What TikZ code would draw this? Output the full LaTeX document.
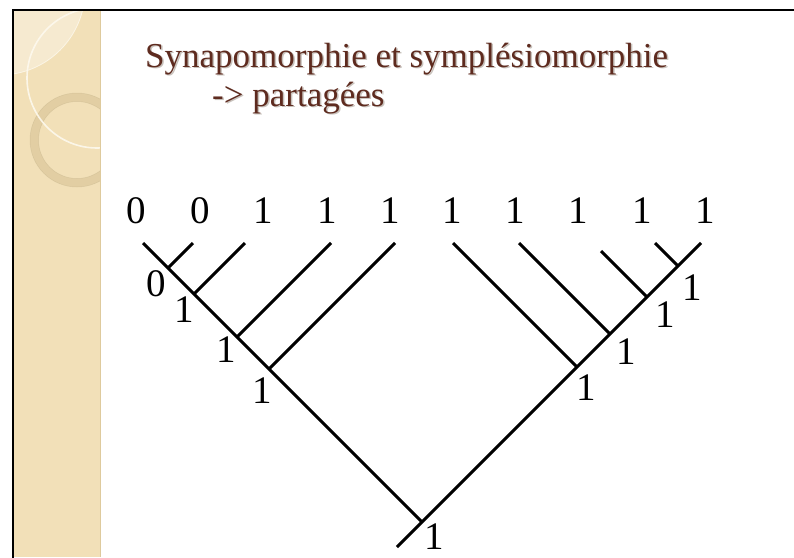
\documentclass[tikz,border=0pt]{standalone}
\usepackage{fontspec}
\setmainfont{Liberation Serif}
\definecolor{bandcol}{HTML}{F2E0B8}
\definecolor{bandlight}{HTML}{F6EAD0}
\definecolor{ringcol}{HTML}{D6C192}
\definecolor{arcwhite}{HTML}{FDF9EE}
\definecolor{titlecol}{HTML}{5E2B1F}
\definecolor{shadowcol}{HTML}{C8C2BC}
\begin{document}
\begin{tikzpicture}[x=1pt,y=-1pt,
  branch/.style={line width=3pt, line cap=butt},
  digit/.style={inner sep=0pt, font=\fontsize{39}{42}\selectfont},
  titletext/.style={inner sep=0pt, anchor=base west, font=\fontsize{35}{40}\selectfont}]
\useasboundingbox (0,0) rectangle (794,557);
\fill[white] (0,0) rectangle (794,557);
% decorative band
\fill[bandcol] (13,10) rectangle (100,557);
\begin{scope}
  \clip (13,10) rectangle (100,557);
  \fill[bandlight] (0,-10) circle (85);
  \draw[arcwhite, line width=0.8pt, opacity=0.8] (0,-10) circle (85);
  \fill[ringcol, even odd rule, opacity=0.55] (77,140) circle (47) (77,140) circle (38.5);
  \draw[ringcol!80!black, line width=0.5pt, opacity=0.25] (77,140) circle (47) (77,140) circle (38.5);
  \draw[arcwhite, line width=1.6pt, opacity=0.9] (97,78) circle (70);
\end{scope}
\draw[ringcol!70!bandcol, line width=1pt] (100,10) -- (100,557);
% frame
\draw[line width=2.8pt, line cap=rect] (13,557) -- (13,10) -- (794,10);
% title
\node[titletext, text=shadowcol] at (146.5,68.5) {Synapomorphie et symplésiomorphie};
\node[titletext, text=titlecol] (t1) at (145,67) {Synapomorphie et symplésiomorphie};
\node[titletext, text=shadowcol] at (213.5,107.5) {-> partagées};
\node[titletext, text=titlecol] (t2) at (212,106) {-> partagées};
% tree coordinates
\coordinate (root) at (422,522);
\coordinate (stem) at (397,547);
\coordinate (L1) at (143,243);
\coordinate (L2) at (193,243);
\coordinate (L3) at (245,243);
\coordinate (L4) at (331,243);
\coordinate (L5) at (395,243);
\coordinate (L6) at (453,243);
\coordinate (L7) at (519,243);
\coordinate (L8) at (601,251);
\coordinate (L9) at (655,243);
\coordinate (L10) at (701,243);
\coordinate (j0) at (168,268);
\coordinate (j1) at (194,294);
\coordinate (j2) at (237,337);
\coordinate (j3) at (269,369);
\coordinate (k1) at (577,367);
\coordinate (k2) at (610,334);
\coordinate (k3) at (647,297);
\coordinate (k4) at (678,266);
% branches
\draw[branch] (L1) -- (root);
\draw[branch] (stem) -- (L10);
\draw[branch] (L2) -- (j0);
\draw[branch] (L3) -- (j1);
\draw[branch] (L4) -- (j2);
\draw[branch] (L5) -- (j3);
\draw[branch] (L6) -- (k1);
\draw[branch] (L7) -- (k2);
\draw[branch] (L8) -- (k3);
\draw[branch] (L9) -- (k4);
% leaf states
\node[digit] (s1) at (136,211) {0};
\node[digit] (s2) at (200,211) {0};
\node[digit] (s3) at (263,211) {1};
\node[digit] (s4) at (327,211) {1};
\node[digit] (s5) at (390,211) {1};
\node[digit] (s6) at (452,211) {1};
\node[digit] (s7) at (515,211) {1};
\node[digit] (s8) at (578,211) {1};
\node[digit] (s9) at (642,211) {1};
\node[digit] (s10) at (705,211) {1};
% internal states
\node[digit] (n0) at (156,284) {0};
\node[digit] (n1) at (184,310) {1};
\node[digit] (n2) at (226,350) {1};
\node[digit] (n3) at (262,391) {1};
\node[digit] (m4) at (692,288) {1};
\node[digit] (m3) at (665,315) {1};
\node[digit] (m2) at (626,352) {1};
\node[digit] (m1) at (586,388) {1};
\node[digit] (r) at (434,537) {1};
\end{tikzpicture}
\end{document}
